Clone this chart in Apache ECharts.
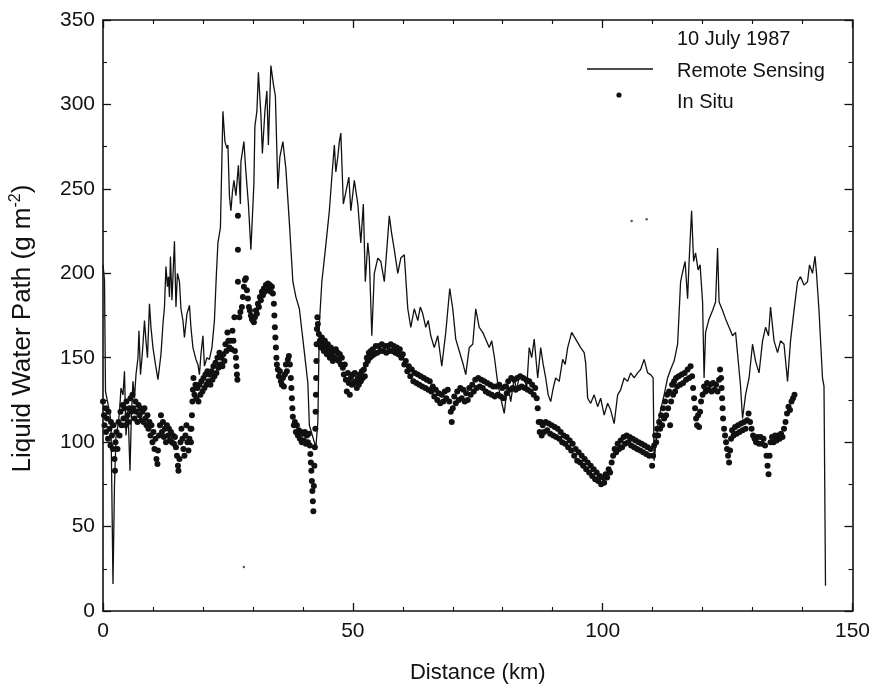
<!DOCTYPE html>
<html>
<head>
<meta charset="utf-8">
<script src="https://cdn.jsdelivr.net/npm/echarts@6/dist/echarts.min.js"></script>
<style>
html,body{margin:0;padding:0;background:#fff;}
#chart{width:873px;height:689px;}
</style>
</head>
<body>
<div id="chart"></div>
<script>
// ---- data (distance km, liquid water path g m^-2) ----
const remoteSensing = [
[0,205],[0.3,196],[0.5,130],[0.9,124],[1.3,118],[1.6,112],[2.0,16],[2.3,75],[2.6,103],[3.0,110],
[3.3,118],[3.6,132],[4.0,128],[4.3,142],[4.6,104],[5.0,120],[5.4,83],[5.7,118],[6.0,136],[6.3,126],
[6.6,140],[7.0,150],[7.2,166],[7.5,140],[7.8,150],[8.0,158],[8.3,172],[8.6,160],[8.9,150],[9.3,182],
[9.6,168],[10.0,156],[10.5,146],[11.0,137],[11.6,152],[12.0,170],[12.3,180],[12.6,204],[12.9,192],[13.1,198],
[13.3,186],[13.5,210],[13.8,184],[14.1,205],[14.3,219],[14.6,180],[14.9,200],[15.3,195],[15.6,179],[16.0,172],
[16.3,162],[16.8,176],[17.3,181],[17.6,168],[18.0,156],[18.6,149],[19.0,146],[19.3,140],[19.6,152],[20.0,163],
[20.3,145],[20.8,150],[21.3,149],[21.8,156],[22.3,172],[22.7,200],[23.0,218],[23.5,227],[24.0,296],[24.4,278],
[24.8,274],[25.0,276],[25.3,246],[25.6,237],[25.9,248],[26.2,255],[26.6,246],[27.1,264],[27.5,241],[27.6,266],
[28.2,278],[28.6,260],[29.1,241],[29.6,214],[30.2,253],[30.4,287],[30.8,296],[31.1,319],[31.6,294],[31.9,271],
[32.4,296],[32.8,308],[33.1,276],[33.6,323],[34.1,312],[34.5,305],[35.0,250],[35.4,269],[36.0,278],[36.6,262],
[37.3,230],[38.0,195],[38.6,186],[39.3,179],[40.0,161],[40.5,148],[41.0,135],[41.3,110],[42.0,103],[42.6,97],
[43.0,112],[43.3,170],[43.8,195],[44.5,214],[45.3,237],[45.8,257],[46.3,276],[46.6,260],[47.0,269],[47.3,278],
[47.6,283],[48.1,241],[48.6,248],[49.2,257],[49.6,237],[50.3,255],[51.0,241],[51.6,218],[52.1,241],[52.5,195],
[53.0,218],[53.3,209],[53.8,163],[54.3,200],[55.0,209],[55.6,207],[56.3,195],[56.8,214],[57.3,234],[57.8,223],
[58.3,214],[59.0,200],[59.6,209],[60.3,211],[61.0,179],[61.6,168],[62.3,179],[63.0,172],[63.5,180],[64.0,176],
[64.6,168],[65.1,172],[65.6,163],[66.3,156],[67.0,163],[67.8,145],[68.6,165],[69.4,191],[70.0,179],[70.6,161],
[71.3,154],[72.0,147],[72.6,140],[73.3,156],[74.0,158],[74.6,179],[75.3,168],[76.0,165],[76.6,161],[77.3,156],
[77.8,160],[78.3,151],[79.0,135],[79.6,126],[80.3,117],[81.0,135],[81.6,124],[82.3,138],[82.8,130],[83.3,140],
[84.3,138],[84.8,132],[85.3,156],[85.8,150],[86.3,161],[87.0,138],[87.6,156],[88.1,146],[88.6,138],[89.1,128],
[89.6,124],[90.1,132],[90.6,138],[91.3,136],[92.0,149],[92.5,146],[93.0,156],[93.8,165],[94.6,161],[95.6,156],
[96.3,153],[96.6,147],[97.0,126],[97.6,123],[98.3,128],[99.0,121],[99.6,126],[100.3,116],[101.0,123],[101.6,119],
[102.3,111],[103.0,128],[103.6,131],[104.3,138],[105.0,136],[105.6,141],[106.3,138],[107.0,141],[107.6,143],[108.3,149],
[109.0,141],[109.6,140],[110.1,138],[110.3,89],[111.0,109],[111.6,119],[112.3,128],[113.0,138],[113.6,143],[114.3,148],
[115.0,158],[115.6,195],[116.1,202],[116.5,207],[117.0,185],[117.3,207],[117.8,237],[118.2,207],[118.6,212],[119.1,202],
[119.5,205],[120.0,183],[120.3,138],[120.6,165],[121.3,173],[122.0,178],[122.6,183],[123.0,215],[123.3,183],[124.0,178],
[124.6,173],[125.3,168],[126.0,163],[126.6,165],[127.2,146],[127.6,133],[128.0,114],[128.6,128],[129.3,138],[130.0,158],
[130.6,148],[131.3,141],[132.0,160],[132.6,168],[133.2,163],[133.6,180],[134.3,160],[135.0,153],[135.6,160],[136.3,158],
[137.0,136],[137.6,160],[138.3,178],[139.0,195],[139.6,198],[140.3,193],[141.0,195],[141.4,205],[142.0,200],[142.5,210],
[142.8,200],[143.3,178],[144.0,138],[144.3,133],[144.6,15]
];

const inSitu = [
[0.0,124],[0.2,116],[0.3,110],[0.5,120],[0.6,106],[0.8,114],[1.0,102],[1.1,118],[1.3,108],[1.5,98],
[1.6,112],[1.8,104],[2.0,96],[2.1,110],[2.3,90],[2.4,83],[2.5,100],[2.7,106],[2.9,96],[3.1,112],
[3.3,104],[3.5,118],[3.7,110],[3.9,122],[4.1,114],[4.3,120],[4.5,110],[4.7,124],[4.9,116],[5.1,112],
[5.3,120],[5.5,126],[5.7,118],[5.9,128],[6.1,120],[6.3,114],[6.5,124],[6.7,118],[6.9,112],[7.1,122],
[7.3,116],[7.5,120],[7.7,113],[7.9,118],[8.1,112],[8.3,120],[8.5,114],[8.7,110],[8.9,116],[9.1,108],
[9.3,112],[9.5,104],[9.7,110],[9.9,100],[10.1,106],[10.3,96],[10.5,102],[10.7,90],[10.9,87],[11.0,95],
[11.2,104],[11.4,110],[11.6,116],[11.8,106],[12.0,112],[12.2,103],[12.4,108],[12.6,100],[12.8,110],[13.0,104],
[13.2,108],[13.4,101],[13.6,106],[13.8,100],[14.0,104],[14.2,99],[14.4,103],[14.6,97],[14.8,92],[15.0,86],
[15.1,83],[15.3,90],[15.5,100],[15.7,108],[15.9,102],[16.1,96],[16.3,92],[16.5,104],[16.7,110],[16.9,100],
[17.1,95],[17.3,102],[17.5,108],[17.6,100],[17.7,108],[17.8,116],[17.9,124],[18.0,131],[18.1,138],[18.3,128],
[18.5,134],[18.7,126],[18.9,132],[19.1,124],[19.3,134],[19.5,128],[19.7,136],[19.9,130],[20.1,138],[20.3,132],
[20.5,140],[20.7,134],[20.9,142],[21.1,136],[21.3,140],[21.5,134],[21.7,142],[21.9,137],[22.1,145],[22.3,139],
[22.5,147],[22.7,141],[22.9,150],[23.1,144],[23.3,153],[23.5,146],[23.7,150],[23.9,145],[24.1,152],[24.3,148],
[24.5,158],[24.7,154],[24.9,165],[25.1,160],[25.3,156],[25.5,160],[25.7,155],[25.9,166],[26.1,160],[26.3,174],
[26.4,154],[26.6,150],[26.7,145],[26.8,140],[26.9,137],[27.0,195],[27.0,214],[27.0,234],[27.3,174],[27.5,177],
[27.8,180],[28.0,186],[28.2,192],[28.4,196],[28.6,197],[28.8,190],[29.0,185],[29.2,180],[29.4,178],[29.6,175],
[29.8,173],[30.0,172],[30.2,171],[30.4,174],[30.6,178],[30.8,176],[31.0,182],[31.2,180],[31.4,186],[31.6,184],
[31.8,189],[32.0,187],[32.2,191],[32.4,189],[32.6,193],[32.8,191],[33.0,194],[33.2,190],[33.4,193],[33.6,189],
[33.8,192],[34.0,188],[34.2,182],[34.3,175],[34.4,168],[34.5,162],[34.6,156],[34.7,150],[34.8,146],[35.0,143],
[35.2,139],[35.4,142],[35.6,136],[35.8,134],[36.0,138],[36.2,133],[36.4,140],[36.6,146],[36.8,142],[37.0,149],
[37.2,151],[37.4,146],[37.6,138],[37.7,132],[37.8,126],[37.9,120],[38.0,115],[38.2,110],[38.4,112],[38.6,106],
[38.8,110],[39.0,104],[39.2,107],[39.4,102],[39.6,106],[39.8,100],[40.0,105],[40.2,101],[40.4,106],[40.6,99],
[40.8,104],[41.0,100],[41.2,105],[41.4,98],[41.5,93],[41.6,88],[41.7,83],[41.8,77],[41.9,71],[42.0,65],
[42.1,59],[42.2,74],[42.3,86],[42.4,97],[42.5,108],[42.55,118],[42.6,128],[42.65,138],[42.7,148],[42.75,158],
[42.8,167],[42.9,174],[43.0,170],[43.2,164],[43.4,160],[43.6,156],[43.8,162],[44.0,158],[44.2,154],[44.4,160],
[44.6,156],[44.8,152],[45.0,158],[45.2,154],[45.4,150],[45.6,156],[45.8,152],[46.0,148],[46.2,154],[46.4,150],
[46.6,155],[46.8,149],[47.0,153],[47.2,148],[47.4,152],[47.6,146],[47.8,150],[48.0,144],[48.2,140],[48.4,146],
[48.6,137],[48.8,130],[49.0,141],[49.2,135],[49.4,128],[49.6,138],[49.8,134],[50.0,140],[50.2,135],[50.4,141],
[50.6,136],[50.8,132],[51.0,138],[51.2,134],[51.4,140],[51.6,136],[51.8,142],[52.0,138],[52.2,143],[52.4,139],
[52.6,146],[52.8,150],[53.0,148],[53.2,153],[53.4,150],[53.6,154],[53.8,151],[54.0,155],[54.3,152],[54.6,157],
[54.9,153],[55.2,157],[55.5,154],[55.8,158],[56.1,154],[56.4,157],[56.7,153],[57.0,157],[57.3,154],[57.6,158],
[57.9,154],[58.2,157],[58.5,153],[58.8,156],[59.1,152],[59.4,155],[59.7,150],[60.0,152],[60.3,146],[60.6,148],
[60.9,142],[61.2,145],[61.5,139],[61.8,143],[62.1,136],[62.4,141],[62.7,135],[63.0,140],[63.3,134],[63.6,139],
[63.9,133],[64.2,138],[64.5,132],[64.8,137],[65.1,131],[65.4,136],[65.7,130],[66.0,133],[66.3,127],[66.6,131],
[66.9,125],[67.2,129],[67.5,123],[67.8,128],[68.1,124],[68.4,130],[68.7,126],[69.0,131],[69.3,124],[69.6,118],
[69.8,112],[70.0,120],[70.3,127],[70.6,123],[70.9,130],[71.2,125],[71.5,132],[71.8,126],[72.1,131],[72.4,124],
[72.7,129],[73.0,125],[73.3,132],[73.6,128],[73.9,134],[74.2,130],[74.5,137],[74.8,132],[75.1,138],[75.4,133],
[75.7,137],[76.0,132],[76.3,136],[76.6,130],[76.9,135],[77.2,129],[77.5,134],[77.8,128],[78.1,133],[78.4,127],
[78.7,133],[79.0,128],[79.3,134],[79.6,127],[79.9,132],[80.2,126],[80.5,133],[80.8,129],[81.1,136],[81.4,131],
[81.7,138],[82.0,132],[82.3,137],[82.6,131],[82.9,138],[83.2,132],[83.5,139],[83.8,133],[84.1,138],[84.4,132],
[84.7,137],[85.0,131],[85.3,136],[85.6,130],[85.9,134],[86.2,128],[86.5,132],[86.8,126],[87.0,120],[87.2,112],
[87.4,106],[87.6,112],[87.8,104],[88.0,110],[88.3,106],[88.6,112],[88.9,107],[89.2,111],[89.5,105],[89.8,110],
[90.1,104],[90.4,109],[90.7,103],[91.0,108],[91.3,102],[91.6,106],[91.9,100],[92.2,104],[92.5,99],[92.8,103],
[93.1,97],[93.4,101],[93.7,95],[94.0,99],[94.3,92],[94.6,96],[94.9,89],[95.2,94],[95.5,88],[95.8,92],
[96.1,86],[96.4,90],[96.7,84],[97.0,88],[97.3,82],[97.6,86],[97.9,80],[98.2,84],[98.5,78],[98.8,82],
[99.1,77],[99.4,80],[99.7,75],[100.0,79],[100.3,76],[100.6,81],[100.9,79],[101.2,84],[101.5,82],[101.8,88],
[102.1,92],[102.4,96],[102.7,94],[103.0,99],[103.3,96],[103.6,101],[103.9,97],[104.2,103],[104.5,99],[104.8,104],
[105.1,100],[105.4,103],[105.7,98],[106.0,102],[106.3,97],[106.6,101],[106.9,96],[107.2,100],[107.5,95],[107.8,99],
[108.1,94],[108.4,98],[108.7,93],[109.0,97],[109.3,92],[109.6,96],[109.9,86],[110.1,92],[110.3,98],[110.5,104],
[110.7,100],[110.9,108],[111.1,104],[111.3,112],[111.5,108],[111.7,116],[111.9,110],[112.1,120],[112.3,114],[112.5,124],
[112.7,116],[112.9,128],[113.1,120],[113.3,130],[113.5,110],[113.7,124],[113.9,134],[114.1,128],[114.3,136],[114.5,130],
[114.7,138],[114.9,133],[115.2,139],[115.5,134],[115.8,140],[116.1,135],[116.4,141],[116.7,137],[117.0,143],[117.3,138],
[117.6,145],[117.9,139],[118.1,132],[118.3,126],[118.5,120],[118.7,114],[118.9,110],[119.1,116],[119.3,109],[119.5,118],
[119.7,124],[120.0,128],[120.3,133],[120.6,130],[120.9,135],[121.2,131],[121.5,134],[121.8,130],[122.1,135],[122.4,131],
[122.7,134],[123.0,130],[123.3,137],[123.5,143],[123.7,138],[123.8,132],[123.9,126],[124.0,120],[124.1,114],[124.3,108],
[124.5,104],[124.7,100],[124.9,96],[125.1,92],[125.3,88],[125.5,95],[125.7,102],[125.9,107],[126.2,104],[126.5,109],
[126.8,105],[127.1,110],[127.4,106],[127.7,111],[128.0,107],[128.3,112],[128.6,108],[128.9,113],[129.2,117],[129.5,112],
[129.8,108],[130.1,104],[130.4,102],[130.7,100],[131.0,103],[131.3,99],[131.6,103],[131.9,99],[132.2,102],[132.5,98],
[132.8,92],[133.0,86],[133.2,81],[133.4,92],[133.6,100],[133.9,103],[134.2,100],[134.5,104],[134.8,101],[135.1,104],
[135.4,102],[135.7,105],[136.0,103],[136.3,108],[136.6,112],[136.9,117],[137.2,121],[137.5,119],[137.8,124],[138.1,126],
[138.4,128]
];

// stray specks visible in the scanned figure
const specks = [[28.2,26],[105.8,231],[108.8,232]];

const xMin = 0, xMax = 150, xStep = 50;
const yMin = 0, yMax = 350, yStep = 50;
const xTitle = 'Distance (km)';
const yTitle = 'Liquid Water Path (g m{sup|-2})';
const dateLabel = '10 July 1987';
const seriesNames = ['Remote Sensing', 'In Situ'];

const FONT = '"Liberation Sans", Arial, Helvetica, sans-serif';
const INK = '#111';

const chart = echarts.init(document.getElementById('chart'), null, {renderer: 'canvas'});

function frameAxis(extra) {
  return Object.assign({
    type: 'value',
    axisLine: {show: true, onZero: false, lineStyle: {color: INK, width: 1.6}},
    axisTick: {show: true, inside: true, length: 8, lineStyle: {color: INK, width: 1.3}},
    minorTick: {show: true, length: 4, lineStyle: {color: INK, width: 1.1}},
    splitLine: {show: false},
    axisLabel: {show: false}
  }, extra);
}

const legendFont = {fontFamily: FONT, fontSize: 20, fill: INK};

chart.setOption({
  backgroundColor: '#ffffff',
  animation: false,
  grid: {left: 103, right: 19, top: 20, bottom: 75, containLabel: false},
  xAxis: [
    frameAxis({
      position: 'bottom', min: xMin, max: xMax, interval: xStep,
      minorTick: {show: true, splitNumber: 5, length: 4, lineStyle: {color: INK, width: 1.1}},
      axisLabel: {show: true, margin: 10, fontFamily: FONT, fontSize: 21, color: INK},
      name: xTitle, nameLocation: 'middle', nameGap: 51,
      nameTextStyle: {fontFamily: FONT, fontSize: 22, color: INK}
    }),
    frameAxis({
      position: 'top', min: xMin, max: xMax, interval: xStep,
      minorTick: {show: true, splitNumber: 5, length: 4, lineStyle: {color: INK, width: 1.1}}
    })
  ],
  yAxis: [
    frameAxis({
      position: 'left', min: yMin, max: yMax, interval: yStep,
      minorTick: {show: true, splitNumber: 2, length: 4, lineStyle: {color: INK, width: 1.1}},
      axisLabel: {show: true, margin: 8, fontFamily: FONT, fontSize: 21, color: INK},
      name: yTitle, nameLocation: 'middle', nameGap: 66,
      nameTextStyle: {
        fontFamily: FONT, fontSize: 26, color: INK,
        padding: [0, 26, 0, 0],
        rich: {sup: {fontFamily: FONT, fontSize: 16, color: INK, padding: [0, 0, 13, 0]}}
      }
    }),
    frameAxis({
      position: 'right', min: yMin, max: yMax, interval: yStep,
      minorTick: {show: true, splitNumber: 2, length: 4, lineStyle: {color: INK, width: 1.1}}
    })
  ],
  graphic: [
    {type: 'text', left: 677, top: 29, style: Object.assign({text: dateLabel}, legendFont)},
    {type: 'line', shape: {x1: 587, y1: 69, x2: 653, y2: 69}, style: {stroke: INK, lineWidth: 1.4}},
    {type: 'text', left: 677, top: 61, style: Object.assign({text: seriesNames[0]}, legendFont)},
    {type: 'circle', shape: {cx: 619, cy: 95, r: 2.6}, style: {fill: INK}},
    {type: 'text', left: 677, top: 92, style: Object.assign({text: seriesNames[1]}, legendFont)}
  ],
  series: [
    {
      name: seriesNames[0], type: 'line', data: remoteSensing,
      xAxisIndex: 0, yAxisIndex: 0,
      showSymbol: false, symbol: 'none',
      lineStyle: {color: INK, width: 1.3},
      itemStyle: {color: INK},
      z: 3
    },
    {
      name: seriesNames[1], type: 'scatter', data: inSitu,
      xAxisIndex: 0, yAxisIndex: 0,
      symbol: 'circle', symbolSize: 6,
      itemStyle: {color: INK, opacity: 1},
      z: 2
    },
    {
      name: 'specks', type: 'scatter', data: specks,
      xAxisIndex: 0, yAxisIndex: 0,
      symbol: 'circle', symbolSize: 2.5,
      itemStyle: {color: '#333'},
      z: 1
    }
  ]
});
</script>
</body>
</html>
